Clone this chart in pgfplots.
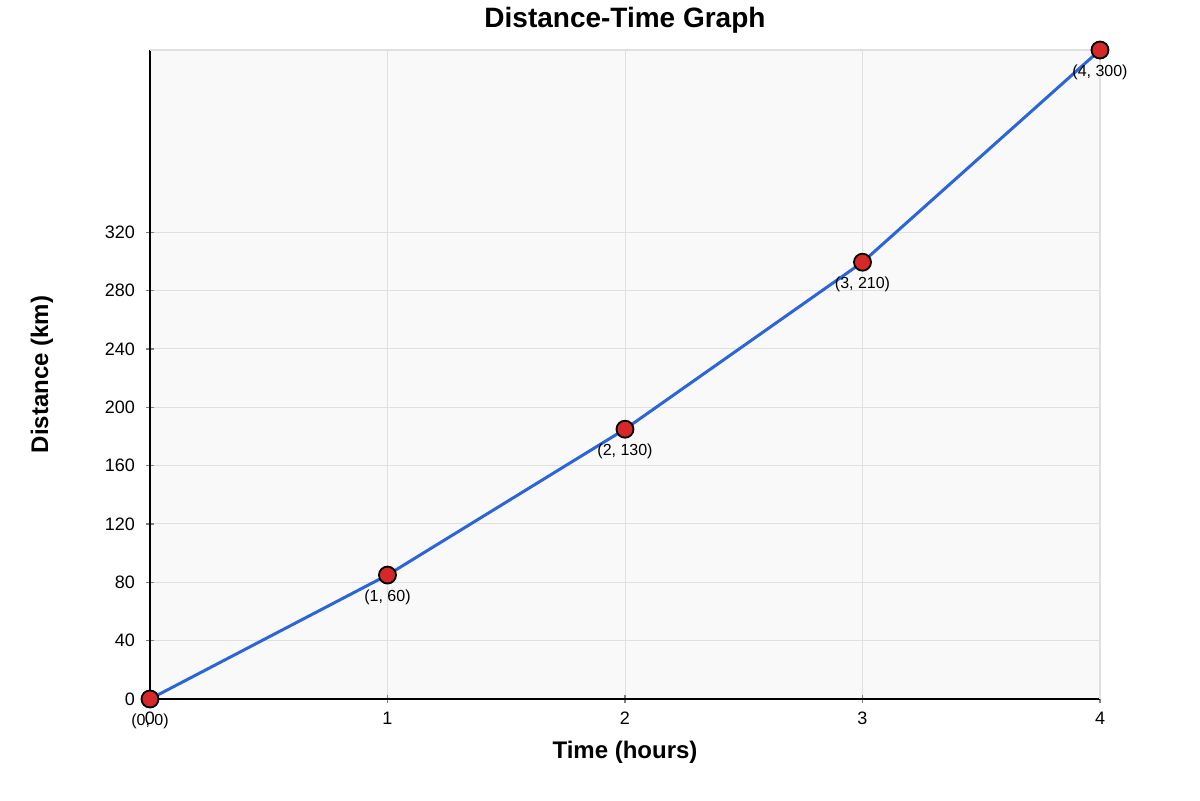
\documentclass[border=0pt]{standalone}
\usepackage{fontspec}
\setmainfont{Liberation Sans}
\usepackage{pgfplots}
\pgfplotsset{compat=1.18}
\definecolor{lineblue}{RGB}{43,101,217}
\definecolor{dotred}{RGB}{214,40,40}
\definecolor{bggray}{RGB}{249,249,249}
\definecolor{gridgray}{RGB}{224,224,224}
\begin{document}
\begin{tikzpicture}
% page = 1200x800 px at 0.5pt per px
\path[use as bounding box] (-75pt,-50.5pt) rectangle (525pt,349.5pt);
\begin{axis}[
  at={(0,0)}, anchor=south west,
  scale only axis,
  width=475pt, height=324.5pt,
  xmin=0, xmax=4, ymin=0, ymax=445,
  xtick={0,1,2,3,4},
  ytick={0,40,80,120,160,200,240,280,320},
  axis lines*=left,
  axis line style={black, line width=1pt},
  tick align=center,
  major tick length=4pt,
  tick style={gray, line width=0.6pt},
  grid=major,
  major grid style={gridgray, line width=0.5pt},
  axis background/.style={fill=bggray},
  tick label style={font=\fontsize{9}{10}\selectfont},
  /pgf/number format/assume math mode=true,
  xticklabel style={yshift=-1pt},
  yticklabel style={xshift=-2pt},
  title={\bfseries Distance-Time Graph},
  every axis title/.style={at={(axis description cs:0.5,1)}, anchor=center, yshift=15pt, font=\fontsize{14}{16}\selectfont},
  xlabel={\bfseries Time (hours)},
  ylabel={\bfseries Distance (km)},
  label style={font=\fontsize{12}{14}\selectfont},
  xlabel style={at={(axis description cs:0.5,0)}, anchor=center, yshift=-26.5pt},
  ylabel style={at={(axis description cs:-0.1137,0.5)}, anchor=center},
  clip=false,
]
\draw[gridgray, line width=0.6pt] (rel axis cs:0,1) -- (rel axis cs:1,1) -- (rel axis cs:1,0);
\addplot[lineblue, line width=1.5pt,
  mark=*, mark size=4.25pt,
  mark options={fill=dotred, draw=black, line width=0.9pt},
  nodes near coords, point meta=explicit symbolic,
  every node near coord/.style={anchor=north, yshift=-3.5pt, font=\fontsize{8}{9}\selectfont, text=black}]
  coordinates {
  (0,0) [{(0, 0)}]
  (1,85) [{(1, 60)}]
  (2,185) [{(2, 130)}]
  (3,299.5) [{(3, 210)}]
  (4,445) [{(4, 300)}]
};
\end{axis}
\end{tikzpicture}
\end{document}
